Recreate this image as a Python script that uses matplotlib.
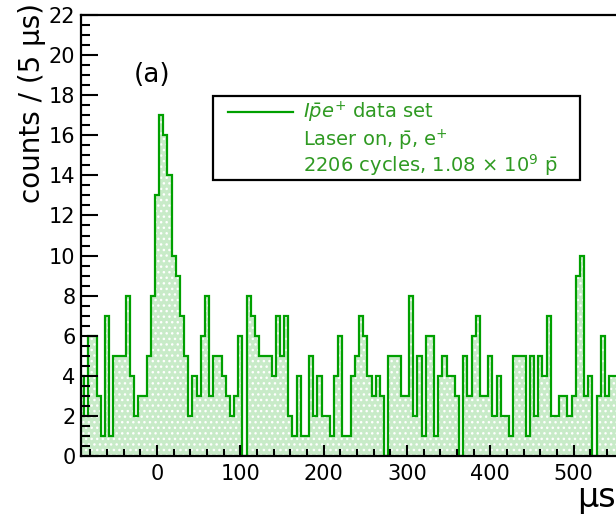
import numpy as np
import matplotlib
matplotlib.use('Agg')
import matplotlib.pyplot as plt
from matplotlib.patches import Rectangle
from matplotlib.ticker import MultipleLocator

#Histogram contents, 5 us bins starting at -92.5 us
bin_low = -92.5
bin_width = 5
counts = [4, 2, 6, 6, 3, 1, 7, 1, 5, 5, 5, 8, 4, 2, 3, 3, 5, 8,
          13, 17, 16, 14, 10, 9, 7, 5, 2, 4, 3, 6, 8, 3, 5, 5, 4, 3, 2, 3,
          6, 0, 8, 7, 6, 5, 5, 5, 4, 7, 5, 7, 2, 1, 4, 1, 1, 5, 2, 4,
          2, 2, 1, 4, 6, 1, 1, 4, 5, 7, 6, 4, 3, 4, 3, 0, 5, 5, 5, 3,
          3, 8, 2, 5, 1, 6, 6, 1, 4, 5, 4, 4, 3, 0, 5, 3, 6, 7, 3, 3,
          5, 2, 4, 2, 2, 1, 5, 5, 5, 1, 5, 2, 5, 4, 7, 2, 2, 3, 3, 2,
          3, 9, 10, 3, 4, 0, 3, 6, 3, 4, 4, 4]

#Axis ticks
x_ticks = [0, 100, 200, 300, 400, 500]
y_ticks = list(range(0, 23, 2))

#Legend / labels
legend_lines = [r'$I\bar{p}e^{+}$ data set',
                r'Laser on, $\bar{\mathrm{p}}$, e$^{+}$',
                r'2206 cycles, 1.08 $\times$ 10$^{9}$ $\bar{\mathrm{p}}$']
y_title = 'counts / (5 \u00b5s)'
x_title = '\u00b5s'
panel_tag = '(a)'

line_green = '#00a000'
fill_green = '#c8ebc8'
text_green = '#2f9a22'

edges = bin_low + bin_width*np.arange(len(counts)+1)

W, H = 616, 515
fig = plt.figure(figsize=(W/100, H/100), dpi=100)
ax = fig.add_axes([81/W, 1-456/H, (625-81)/W, (456-15)/H])

#Filled histogram with dotted pattern, then the outline
ax.stairs(counts, edges, fill=True, facecolor=fill_green, edgecolor='white',
          hatch='...', linewidth=0)
ax.stairs(counts, edges, color=line_green, linewidth=1.6)

ax.set_xlim(-91.2, 561.6)
ax.set_ylim(0, 22)
ax.set_xticks(x_ticks)
ax.set_yticks(y_ticks)
ax.xaxis.set_minor_locator(MultipleLocator(20))
ax.yaxis.set_minor_locator(MultipleLocator(0.5))
ax.tick_params(axis='both', which='both', direction='in', width=1.5, labelsize=15)
ax.tick_params(axis='x', which='major', length=8, pad=6)
ax.tick_params(axis='x', which='minor', length=4.8)
ax.tick_params(axis='y', which='major', length=12, pad=4)
ax.tick_params(axis='y', which='minor', length=6.5)
for s in ax.spines.values():
    s.set_linewidth(1.6)

#Axis titles as in ROOT (right aligned at axis ends)
fig.text(32/W, 1-3/H, y_title, rotation=90, ha='center', va='top', fontsize=20)
fig.text(616/W, 1-497/H, x_title, ha='right', va='center', fontsize=24)
fig.text(152/W, 1-75/H, panel_tag, ha='center', va='center', fontsize=19)

#Legend box
box = Rectangle((213/W, 1-180/H), (580-213)/W, (180-96)/H, transform=fig.transFigure,
                facecolor='white', edgecolor='black', linewidth=1.6, zorder=5)
fig.patches.append(box)
fig.lines.append(plt.Line2D([228/W, 293/W], [1-112/H, 1-112/H], transform=fig.transFigure,
                            color=line_green, linewidth=1.6, zorder=6))
for txt, py in zip(legend_lines, [112, 140, 165]):
    fig.text(303/W, 1-py/H, txt, ha='left', va='center', fontsize=14, color=text_green, zorder=6)

fig.savefig('out.png', dpi=100)
